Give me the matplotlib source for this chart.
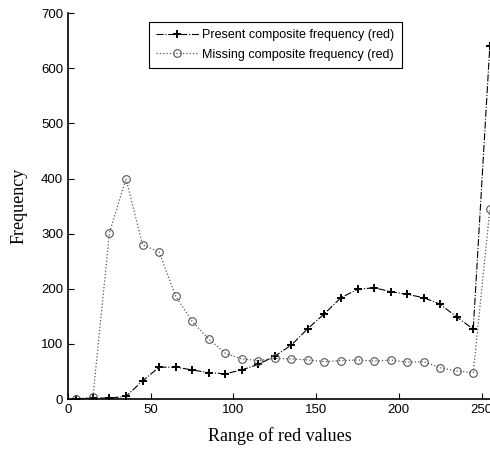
import matplotlib.pyplot as plt
import numpy as np

# bin centres of the red channel histogram
bins = [5, 15, 25, 35, 45, 55, 65, 75, 85, 95, 105, 115, 125,
        135, 145, 155, 165, 175, 185, 195, 205, 215, 225, 235, 245, 255]

present = [0, 2, 2, 5, 33, 58, 58, 53, 48, 46, 53, 63, 78,
           98, 128, 155, 184, 199, 202, 195, 190, 184, 172, 149, 127, 640]

missing = [0, 4, 302, 400, 280, 267, 187, 141, 109, 83, 73, 70, 74,
           73, 71, 68, 70, 71, 69, 71, 67, 68, 57, 51, 48, 344]

xticks = [0, 50, 100, 150, 200, 250]
yticks = [0, 100, 200, 300, 400, 500, 600, 700]

fig = plt.figure(figsize=(4.9, 4.5), dpi=100)
ax = fig.add_axes([0.139, 0.113, 0.864, 0.858])

ax.plot(bins, present, color='black', linestyle='-.', linewidth=0.8,
        marker='+', markersize=6, markeredgewidth=1.4,
        label='Present composite frequency (red)')
ax.plot(bins, missing, color='#555555', linestyle=':', linewidth=0.9,
        marker='o', markersize=5.5, markerfacecolor='none', markeredgewidth=0.8,
        label='Missing composite frequency (red)')

ax.set_xlim(0, 256)
ax.set_ylim(0, 700)
ax.set_xticks(xticks)
ax.set_yticks(yticks)
ax.tick_params(direction='in', length=4, labelsize=9.5)
for lab in ax.get_xticklabels() + ax.get_yticklabels():
    lab.set_family('Liberation Sans')
ax.spines['top'].set_visible(False)
ax.spines['right'].set_visible(False)
ax.spines['left'].set_linewidth(1.2)
ax.spines['bottom'].set_linewidth(1.2)

ax.set_xlabel('Range of red values', family='Liberation Serif', fontsize=13, labelpad=8)
ax.set_ylabel('Frequency', family='Liberation Serif', fontsize=13, labelpad=10)

leg = ax.legend(loc='upper left', bbox_to_anchor=(0.19, 0.978), frameon=True,
                fancybox=False, edgecolor='black', framealpha=1,
                prop={'family': 'Liberation Sans', 'size': 9},
                handlelength=3.4, borderpad=0.6, labelspacing=0.6,
                handletextpad=0.3, borderaxespad=0)
leg.get_frame().set_linewidth(0.8)

fig.savefig('out.png', dpi=100)
